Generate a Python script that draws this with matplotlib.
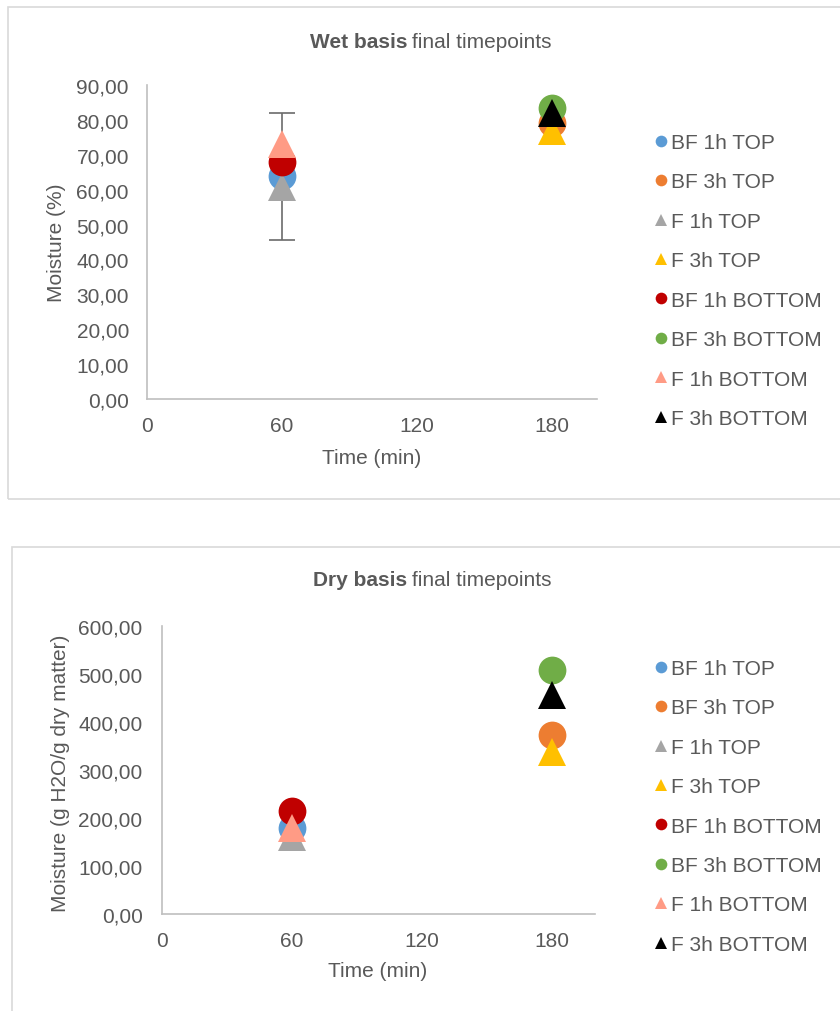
import matplotlib
matplotlib.use('Agg')
import matplotlib.pyplot as plt
from matplotlib.patches import Rectangle
from matplotlib.ticker import FuncFormatter

W, H = 840, 1012

series = ['BF 1h TOP', 'BF 3h TOP', 'F 1h TOP', 'F 3h TOP',
          'BF 1h BOTTOM', 'BF 3h BOTTOM', 'F 1h BOTTOM', 'F 3h BOTTOM']
colors = ['#5B9BD5', '#ED7D31', '#A5A5A5', '#FFC000',
          '#C00000', '#70AD47', '#FF9B85', '#000000']
markers = ['o', 'o', '^', '^', 'o', 'o', '^', '^']
time_min = [60, 180, 60, 180, 60, 180, 60, 180]

wet = [63.8, 79.2, 60.8, 76.9, 67.8, 83.4, 73.2, 81.9]
wet_err = 18.1  # only on BF 1h TOP
dry = [178.5, 373.5, 161.0, 338.0, 214.0, 509.0, 179.6, 455.6]

x_ticks = [0, 60, 120, 180]
wet_ticks = list(range(0, 91, 10))
dry_ticks = list(range(0, 601, 100))

TXT = '#595959'
AX = '#BFBFBF'
FONT = 'Liberation Sans'
FS = 15

plt.rcParams['font.family'] = [FONT, 'DejaVu Sans']


def fx(x):
    return x / W


def fy(y):
    return 1 - y / H


def comma_fmt(v, pos):
    return f'{v:.2f}'.replace('.', ',')


fig = plt.figure(figsize=(W / 100, H / 100), dpi=100)

# chart frames
fig.patches.append(Rectangle((fx(8), fy(500)), fx(840), fy(8) - fy(500),
                             transform=fig.transFigure, fill=False,
                             edgecolor='#D9D9D9', linewidth=1.2))
fig.patches.append(Rectangle((fx(12), fy(1020)), fx(840), fy(548) - fy(1020),
                             transform=fig.transFigure, fill=False,
                             edgecolor='#D9D9D9', linewidth=1.2))


def make_chart(rect, values, yticks, ymax, err, ypad, legend_top,
               title_y, bold, ylabel, ylabel_xy, xlabel_xy):
    left, top, right, bottom = rect
    ax = fig.add_axes([fx(left), fy(bottom), fx(right - left), fy(top) - fy(bottom)])
    ax.set_xlim(0, 200)
    ax.set_ylim(0, ymax)
    ax.set_xticks(x_ticks)
    ax.set_yticks(yticks)
    ax.yaxis.set_major_formatter(FuncFormatter(comma_fmt))
    for s in ['top', 'right']:
        ax.spines[s].set_visible(False)
    for s in ['left', 'bottom']:
        ax.spines[s].set_color(AX)
        ax.spines[s].set_linewidth(1.2)
    ax.tick_params(axis='both', length=0, labelsize=FS, labelcolor=TXT)
    ax.tick_params(axis='x', pad=12)
    ax.tick_params(axis='y', pad=ypad)

    if err is not None:
        ax.errorbar([time_min[0]], [values[0]], yerr=[err], fmt='none',
                    ecolor='#6B6B6B', elinewidth=1.2, capsize=9.5,
                    capthick=1.2, zorder=2)

    handles = []
    for i, name in enumerate(series):
        h, = ax.plot([time_min[i]], [values[i]], linestyle='none',
                     marker=markers[i], markersize=20, color=colors[i],
                     markeredgewidth=0, label=name, zorder=3 + i, clip_on=False)
        handles.append(h)

    leg = fig.legend(handles, series, loc='upper left',
                     bbox_to_anchor=(fx(655), fy(legend_top)),
                     frameon=False, fontsize=FS, markerscale=0.42,
                     handlelength=0.6, handletextpad=0.15, borderpad=0,
                     labelspacing=0.98, borderaxespad=0)
    for t in leg.get_texts():
        t.set_color(TXT)

    fig.text(fx(407), fy(title_y), bold, ha='right', va='center',
             fontsize=FS, fontweight='bold', color=TXT)
    fig.text(fx(412), fy(title_y), 'final timepoints', ha='left',
             va='center', fontsize=FS, color=TXT)
    fig.text(fx(ylabel_xy[0]), fy(ylabel_xy[1]), ylabel, rotation=90,
             ha='center', va='center', fontsize=FS, color=TXT)
    fig.text(fx(xlabel_xy[0]), fy(xlabel_xy[1]), 'Time (min)',
             ha='center', va='center', fontsize=FS, color=TXT)
    return ax


make_chart((147, 86, 597, 400), wet, wet_ticks, 90, wet_err, 13, 134,
           42, 'Wet basis', 'Moisture (%)', (57, 243), (372, 458))
make_chart((162, 627, 595, 915), dry, dry_ticks, 600, None, 14, 660,
           581, 'Dry basis', 'Moisture (g H2O/g dry matter)', (61, 773),
           (378, 972))

fig.savefig('out.png', dpi=100)
